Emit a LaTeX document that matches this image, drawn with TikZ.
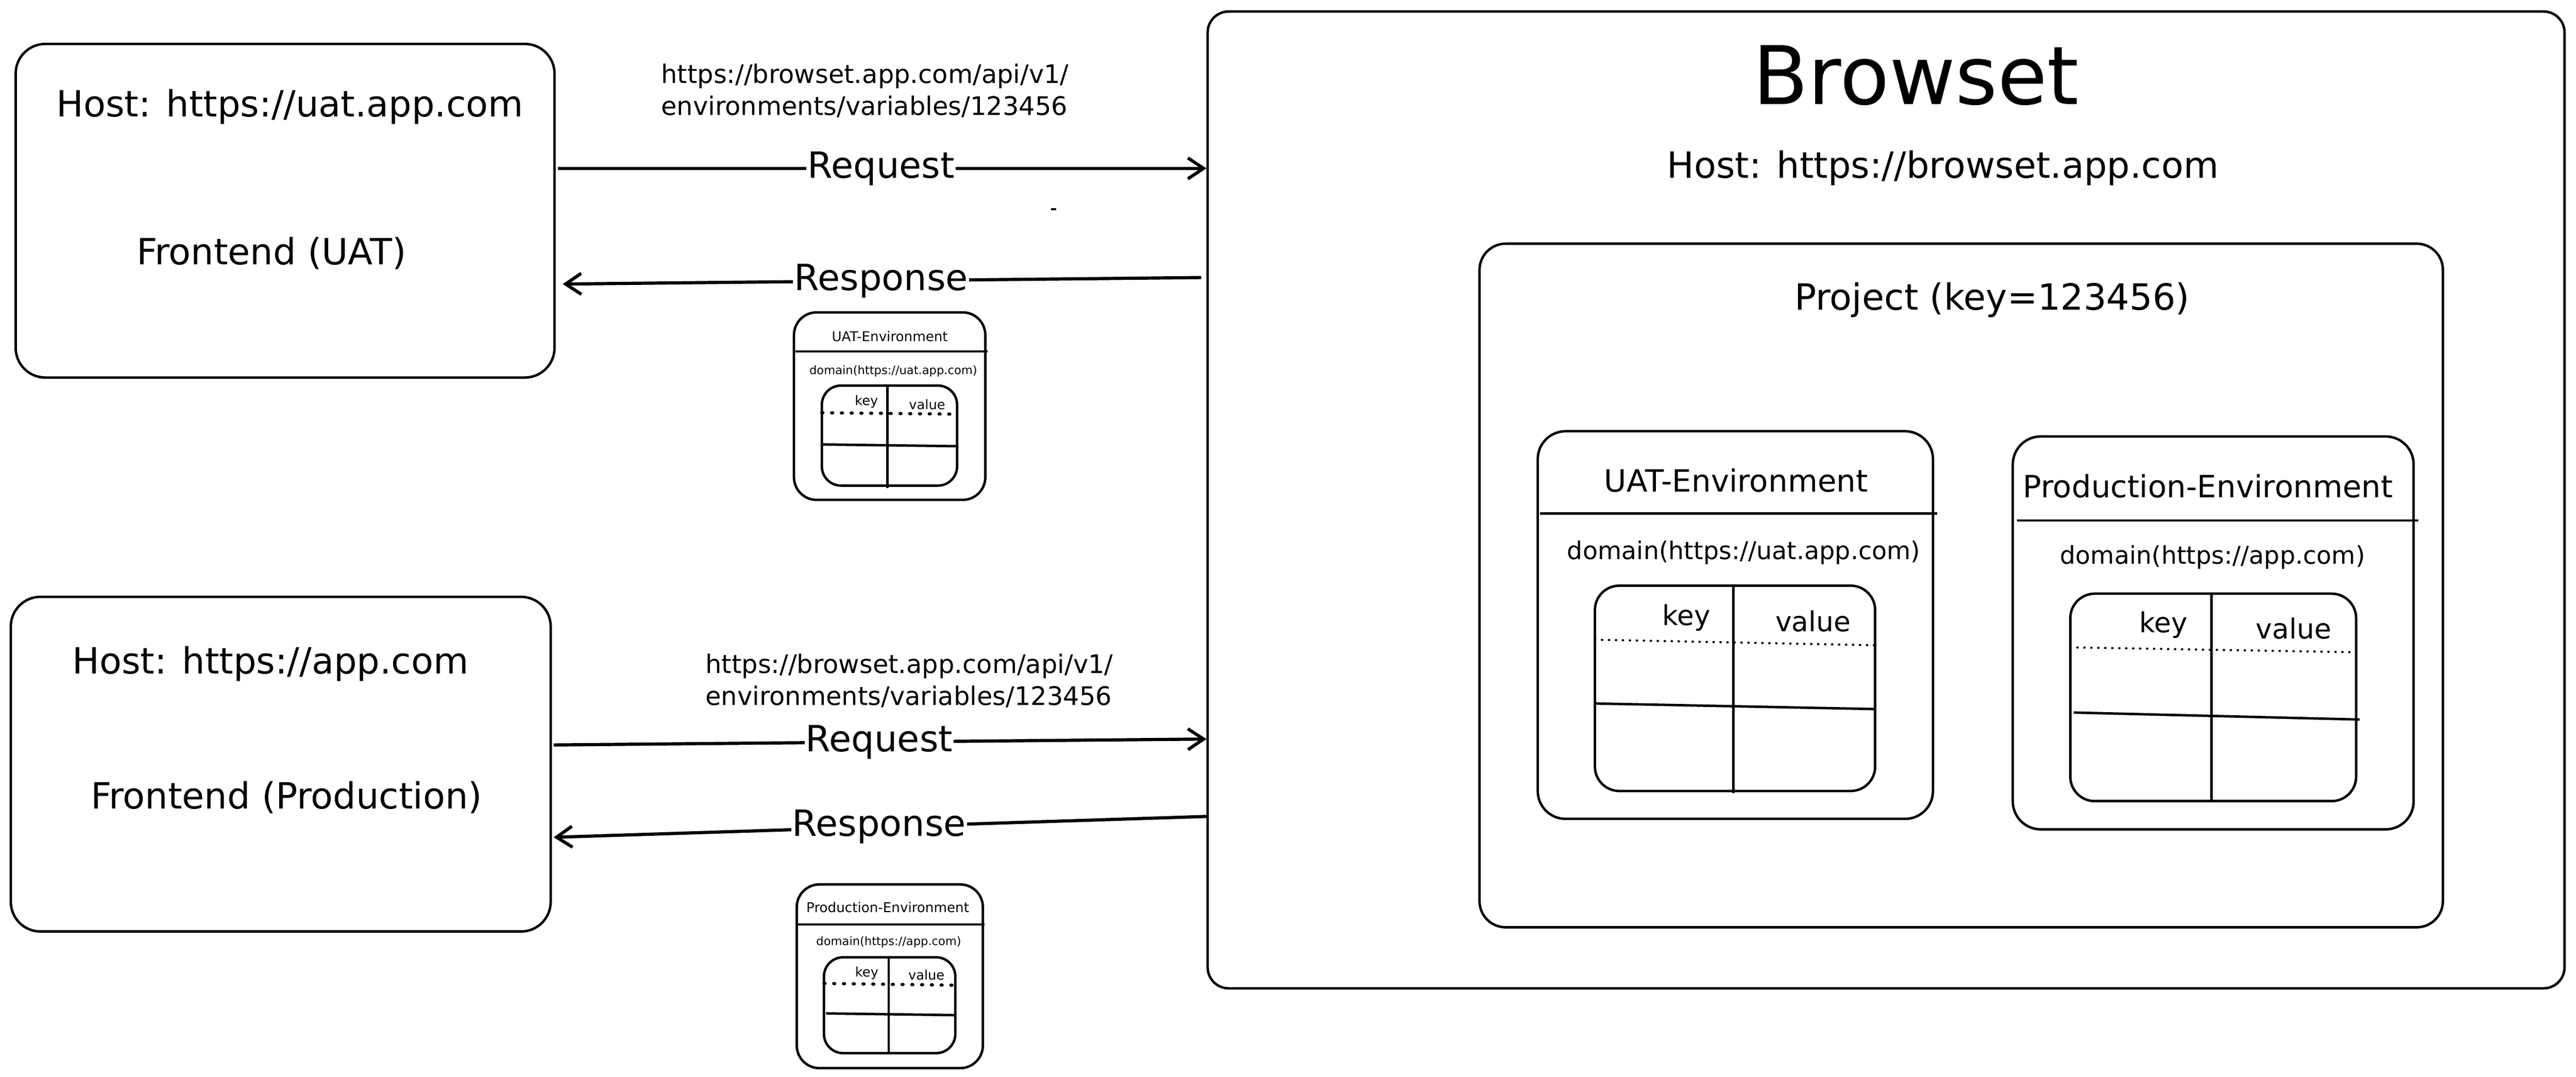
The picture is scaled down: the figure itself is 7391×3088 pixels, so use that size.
\documentclass[tikz,border=0pt]{standalone}
\usepackage{fontspec}
\setmainfont{DejaVu Sans}
\usetikzlibrary{arrows.meta, fit}

\newcommand{\fmain}{\fontsize{29.5pt}{35pt}\selectfont}
\newcommand{\furl}{\fontsize{20.8pt}{25.9pt}\selectfont}
\newcommand{\fbig}{\fontsize{66pt}{80pt}\selectfont}
\newcommand{\fenv}{\fontsize{25pt}{30pt}\selectfont}
\newcommand{\fdom}{\fontsize{20pt}{24pt}\selectfont}
\newcommand{\fkv}{\fontsize{22.5pt}{27pt}\selectfont}
\newcommand{\fsenv}{\fontsize{11pt}{13pt}\selectfont}
\newcommand{\fsdom}{\fontsize{9.5pt}{11pt}\selectfont}
\newcommand{\fskv}{\fontsize{10.8pt}{13pt}\selectfont}

\begin{document}
\begin{tikzpicture}[x=0.01cm, y=-0.01cm, line width=2pt, line join=round,
  box/.style={draw, rounded corners=#1, inner sep=0pt}, box/.default=0.8cm,
  arr/.style={-{Straight Barb[length=0.45cm,width=0.6cm]}, line width=2.6pt},
  lab/.style={fill=white, inner sep=1pt, font=\fmain},
  dotline/.style={line width=1.8pt, line cap=round, dash pattern=on 0.01cm off 0.19cm},
  sdotline/.style={line width=2.6pt, line cap=round, dash pattern=on 0.03cm off 0.25cm}]

\path[fill=white, use as bounding box] (0,0) rectangle (7391,3088);

% frontends
\node[box=0.85cm, fit={(45,126) (1591,1083)}] (uatfront) {};
\node[font=\fmain] (uathost) at (832,306) {Host: https://uat.app.com};
\node[font=\fmain] (uatname) at (779,727) {Frontend (UAT)};

\node[box=0.85cm, fit={(31,1712) (1580,2672)}] (prodfront) {};
\node[font=\fmain] (prodhost) at (776,1904) {Host: https://app.com};
\node[font=\fmain] (prodname) at (822,2288) {Frontend (Production)};

% browset
\node[box=0.6cm, fit={(3465,33) (7358,2835)}] (browset) {};
\node[font=\fbig] (browsettitle) at (5497,217) {Browset};
\node[font=\fmain] (browsethost) at (5574,482) {Host: https://browset.app.com};

\node[box=0.75cm, fit={(4245,699) (7009,2660)}] (project) {};
\node[font=\fmain] (projectname) at (5716,861) {Project (key=123456)};

\node[box=0.8cm, fit={(4412,1237) (5546,2349)}] (uatenv) {};
\node[font=\fenv] (uatenvtitle) at (4981,1378) {UAT-Environment};
\draw (4418,1473) -- (5558,1473);
\node[font=\fdom] (uatenvdom) at (5003,1585) {domain(https://uat.app.com)};
\node[box=0.7cm, fit={(4576,1680) (5380,2269)}] (uattab) {};
\draw (4973,1680) -- (4973,2275);
\draw[dotline] (4576,1835) -- (5380,1851);
\draw (4576,2018) -- (5380,2034);
\node[font=\fkv] (uatkey) at (4838,1772) {key};
\node[font=\fkv] (uatval) at (5202,1782) {value};

\node[box=0.8cm, fit={(5775,1252) (6925,2379)}] (prodenv) {};
\node[font=\fenv] (prodenvtitle) at (6335,1394) {Production-Environment};
\draw (5787,1493) -- (6938,1493);
\node[font=\fdom] (prodenvdom) at (6348,1599) {domain(https://app.com)};
\node[box=0.7cm, fit={(5940,1703) (6760,2298)}] (prodtab) {};
\draw (6345,1703) -- (6345,2300);
\draw[dotline] (5940,1857) -- (6760,1871);
\draw (5950,2044) -- (6770,2064);
\node[font=\fkv] (prodkey) at (6207,1792) {key};
\node[font=\fkv] (prodval) at (6581,1802) {value};

% requests and responses
\node[font=\furl, anchor=west, align=left] (url1) at (1882,260) {https://browset.app.com/api/v1/\\environments/variables/123456};
\draw[arr, shorten <=0.07cm] (uatfront.east |- 0,483) -- (browset.west |- 0,483) node[midway, lab] {Request};
\draw[line width=1.5pt] (3016,600) -- (3030,600);
\draw[arr, shorten <=0.15cm, shorten >=0.2cm] (browset.west |- 0,796) -- (uatfront.east |- 0,815) node[midway, lab] {Response};

\node[box=0.65cm, fit={(2278,896) (2827,1434)}] (uatmsg) {};
\node[font=\fsenv] (uatmsgtitle) at (2553,965) {UAT-Environment};
\draw (2283,1008) -- (2834,1008);
\node[font=\fsdom] (uatmsgdom) at (2563,1064) {domain(https://uat.app.com)};
\node[box=0.55cm, fit={(2358,1106) (2746,1393)}] (uatmsgtab) {};
\draw (2546,1106) -- (2546,1400);
\draw[sdotline] (2358,1184) -- (2746,1188);
\draw (2362,1275) -- (2750,1280);
\node[font=\fskv] (uatmsgkey) at (2486,1152) {key};
\node[font=\fskv] (uatmsgval) at (2660,1160) {value};

\node[font=\furl, anchor=west, align=left] (url2) at (2009,1953) {https://browset.app.com/api/v1/\\environments/variables/123456};
\draw[arr, shorten <=0.05cm] (prodfront.east |- 0,2137) -- (browset.west |- 0,2120) node[midway, lab] {Request};
\draw[arr, shorten >=0.05cm] (browset.west |- 0,2342) -- (prodfront.east |- 0,2402) node[midway, lab] {Response};

\node[box=0.65cm, fit={(2286,2537) (2820,3064)}] (prodmsg) {};
\node[font=\fsenv] (prodmsgtitle) at (2547,2603) {Production-Environment};
\draw (2290,2652) -- (2825,2652);
\node[font=\fsdom] (prodmsgdom) at (2550,2702) {domain(https://app.com)};
\node[box=0.55cm, fit={(2364,2746) (2741,3021)}] (prodmsgtab) {};
\draw (2550,2746) -- (2550,3021);
\draw[sdotline] (2364,2821) -- (2741,2826);
\draw (2370,2907) -- (2741,2912);
\node[font=\fskv] (prodmsgkey) at (2487,2791) {key};
\node[font=\fskv] (prodmsgval) at (2658,2796) {value};

\end{tikzpicture}
\end{document}
